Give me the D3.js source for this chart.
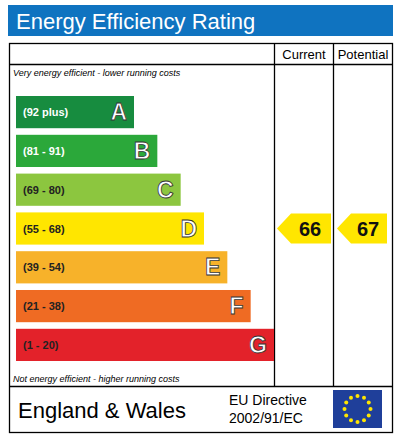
<!DOCTYPE html><html><head><meta charset="utf-8"><script src="https://d3js.org/d3.v7.min.js"></script>
<style>body{margin:0;background:#fff}</style></head><body><svg id="c" width="407" height="437"></svg>
<script>
const bands=["A","B","C","D","E","F","G"];
const ranges=["(92 plus)","(81 - 91)","(69 - 80)","(55 - 68)","(39 - 54)","(21 - 38)","(1 - 20)"];
const colors=["#178c3f","#2ba83a","#8cc63f","#ffe600","#f7b22a","#ef6b23","#e3222a"];
const currentValue=66, potentialValue=67;
const svg=d3.select("#c"), F="Liberation Sans, Arial, sans-serif";
svg.append("rect").attr("x",8).attr("y",5).attr("width",385).attr("height",31).attr("fill","#0f73c0");
svg.append("text").attr("x",16).attr("y",29).attr("font-family",F).attr("font-size",22).attr("fill","#fff").text("Energy Efficiency Rating");
const g=svg.append("g").attr("stroke","#000").attr("stroke-width",1.3).attr("fill","none");
g.append("rect").attr("x",9.5).attr("y",43.5).attr("width",383).attr("height",389);
g.append("line").attr("x1",9.5).attr("x2",392.5).attr("y1",64.5).attr("y2",64.5);
g.append("line").attr("x1",9.5).attr("x2",392.5).attr("y1",386.5).attr("y2",386.5);
g.append("line").attr("x1",274.5).attr("x2",274.5).attr("y1",43.5).attr("y2",386.5);
g.append("line").attr("x1",333.5).attr("x2",333.5).attr("y1",43.5).attr("y2",386.5);
svg.append("text").attr("x",304).attr("y",59).attr("text-anchor","middle").attr("font-family",F).attr("font-size",13).text("Current");
svg.append("text").attr("x",363).attr("y",59).attr("text-anchor","middle").attr("font-family",F).attr("font-size",13).text("Potential");
svg.append("text").attr("x",13).attr("y",76).attr("font-family",F).attr("font-style","italic").attr("font-size",9).text("Very energy efficient - lower running costs");
svg.append("text").attr("x",13).attr("y",382).attr("font-family",F).attr("font-style","italic").attr("font-size",9).text("Not energy efficient - higher running costs");
const y=d3.scaleBand().domain(bands).range([96,361]).paddingInner(0.17).paddingOuter(0);
const w=d3.scaleLinear().domain([0,6]).range([118,258]);
const rows=svg.selectAll("g.r").data(bands).join("g");
rows.append("rect").attr("x",16).attr("y",d=>y(d)).attr("height",y.bandwidth()).attr("width",(d,i)=>w(i)).attr("fill",(d,i)=>colors[i]);
rows.append("text").attr("x",23).attr("y",d=>y(d)+y.bandwidth()/2+4).attr("font-family",F).attr("font-weight","bold").attr("font-size",11)
 .attr("fill",(d,i)=>i<2?"#fff":"#222").text((d,i)=>ranges[i]);
rows.append("text").attr("x",(d,i)=>16+w(i)-7).attr("y",d=>y(d)+y.bandwidth()/2+8).attr("text-anchor","end").attr("font-family",F).attr("font-weight","bold").attr("font-size",23)
 .attr("fill","#fff").attr("stroke","#333").attr("stroke-width",0.8).text(d=>d);
function band(v){return v>=92?0:v>=81?1:v>=69?2:v>=55?3:v>=39?4:v>=21?5:6;}
function arrow(x0,x1,v){const b=bands[band(v)],t=y(b)-13+y.bandwidth()/2-2,h=30,yy=y(b)+y.bandwidth()/2-h/2;
 svg.append("path").attr("d",`M${x0},${yy+h/2}L${x0+14},${yy}L${x1},${yy}L${x1},${yy+h}L${x0+14},${yy+h}Z`).attr("fill",colors[band(v)]);
 svg.append("text").attr("x",(x0+x1)/2+6).attr("y",yy+h/2+7).attr("text-anchor","middle").attr("font-family",F).attr("font-weight","bold").attr("font-size",20).attr("fill","#111").text(v);}
arrow(277,331,currentValue);arrow(337,387,potentialValue);
svg.append("text").attr("x",18).attr("y",418).attr("font-family",F).attr("font-size",22).text("England & Wales");
svg.append("text").attr("x",229).attr("y",405).attr("font-family",F).attr("font-size",14).text("EU Directive");
svg.append("text").attr("x",229).attr("y",423).attr("font-family",F).attr("font-size",14).text("2002/91/EC");
svg.append("rect").attr("x",333).attr("y",390).attr("width",49).attr("height",38).attr("fill","#1f3f9a");
const stars=d3.range(12).map(i=>i*30);
svg.selectAll("circle.s").data(stars).join("circle").attr("cx",d=>357.5+13*Math.sin(d*Math.PI/180)).attr("cy",d=>409-13*Math.cos(d*Math.PI/180)).attr("r",2).attr("fill","#ffe600");
</script></body></html>
